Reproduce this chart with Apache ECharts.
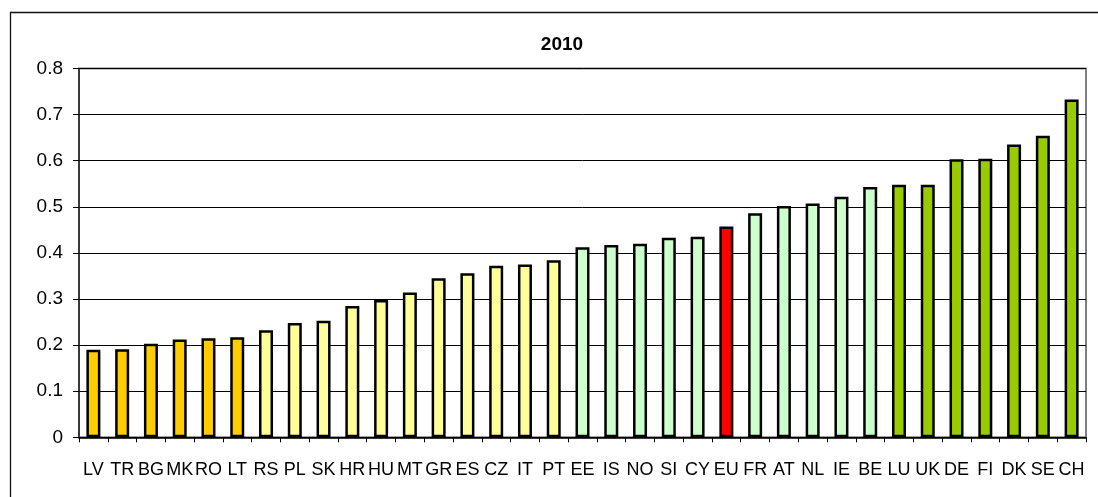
<!DOCTYPE html>
<html>
<head>
<meta charset="utf-8">
<script src="https://cdn.jsdelivr.net/npm/echarts@6/dist/echarts.min.js"></script>
<style>
html,body{margin:0;padding:0;background:#fff;}
#chart{width:1098px;height:497px;}
</style>
</head>
<body>
<div id="chart"></div>
<script>
const title = '2010';
const categories = ['LV','TR','BG','MK','RO','LT','RS','PL','SK','HR','HU','MT','GR','ES','CZ','IT','PT','EE','IS','NO','SI','CY','EU','FR','AT','NL','IE','BE','LU','UK','DE','FI','DK','SE','CH'];
const values = [0.190,0.191,0.203,0.212,0.215,0.217,0.232,0.248,0.253,0.285,0.298,0.314,0.345,0.356,0.372,0.375,0.384,0.412,0.417,0.420,0.433,0.435,0.457,0.486,0.502,0.507,0.522,0.543,0.548,0.548,0.603,0.604,0.635,0.654,0.733];
const yTicks = [0,0.1,0.2,0.3,0.4,0.5,0.6,0.7,0.8];
// colour group per category (0 orange, 1 yellow, 2 light green, 3 red/EU, 4 green)
const colourGroup = [0,0,0,0,0,0,1,1,1,1,1,1,1,1,1,1,1,2,2,2,2,2,3,2,2,2,2,2,4,4,4,4,4,4,4];
const palette = ['#FFCC00','#FFFF99','#CCFFCC','#FF0000','#99CC00'];

const FONT = 'Liberation Sans, Arial, sans-serif';
const chart = echarts.init(document.getElementById('chart'));
chart.setOption({
  animation:false,
  backgroundColor:'#fff',
  textStyle:{fontFamily:FONT},
  title:{text:title,left:557,top:30,textAlign:'center',
    textStyle:{fontFamily:FONT,fontSize:19,fontWeight:'bold',color:'#000'}},
  graphic:[{type:'rect',shape:{x:10.5,y:12.5,width:1200,height:600},
    style:{fill:'none',stroke:'#111',lineWidth:1.3},silent:true,z:-1}],
  grid:{left:79,right:12,top:68.5,bottom:59.7,show:true,borderColor:'#808080',borderWidth:2,backgroundColor:'transparent'},
  xAxis:{type:'category',data:categories,
    axisLine:{lineStyle:{color:'#000',width:1.5}},
    axisTick:{show:true,length:5,alignWithLabel:false,lineStyle:{color:'#000',width:1}},
    axisLabel:{interval:0,margin:24,fontSize:18,color:'#000',fontFamily:FONT}},
  yAxis:{type:'value',min:yTicks[0],max:yTicks[yTicks.length-1],interval:0.1,
    axisLine:{show:true,lineStyle:{color:'#222',width:1.5}},
    axisTick:{show:true,length:6,lineStyle:{color:'#000',width:1}},
    axisLabel:{margin:16,fontSize:19,color:'#000',fontFamily:FONT,
      formatter:v=>String(Math.round(v*10)/10)},
    splitLine:{lineStyle:{color:'#000',width:1}}},
  series:[{type:'bar',data:values,barWidth:14,
    itemStyle:{borderColor:'#000',borderWidth:2.5,
      color:p=>palette[colourGroup[p.dataIndex]]}}]
});
</script>
</body>
</html>
